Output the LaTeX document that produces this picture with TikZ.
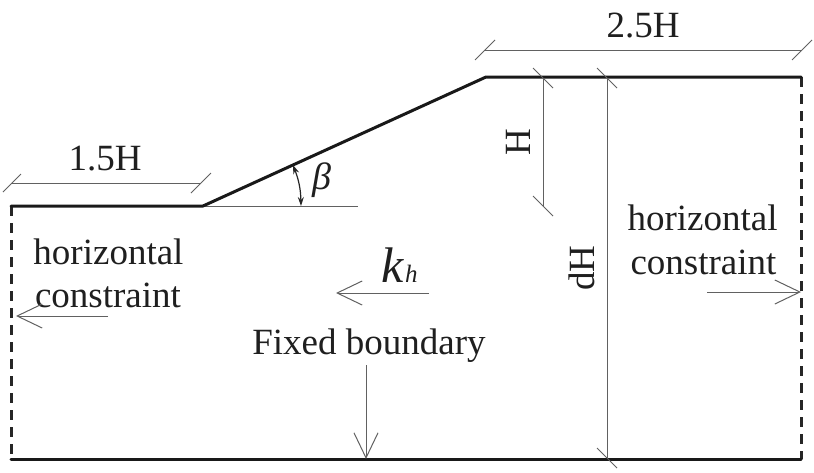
\documentclass[tikz,border=0pt]{standalone}
\usepackage{fontspec}
\setmainfont{Liberation Serif}
\usetikzlibrary{arrows.meta}
\tikzset{
  x=1pt,y=-1pt,
  ground/.style={line width=3pt,black!90,line cap=round,line join=round},
  free/.style={line width=3pt,black!85,dash pattern=on 10pt off 7pt},
  thin line/.style={line width=1pt,black!62},
  force/.style={thin line,-{Straight Barb[length=25pt,width=24pt,line width=1pt]}},
  angle mark/.style={line width=1.2pt,black!85,{Stealth[length=9pt,width=6pt]}-{Stealth[length=9pt,width=6pt]}},
  label/.style={inner sep=0pt,anchor=base,text=black!88,font=\fontsize{37}{37}\selectfont}
}
\newcommand{\ticks}[3]{\draw[thin line] ([shift={(#2,#3)}]#1) -- ([shift={(-#2,-#3)}]#1);}
\begin{document}
\begin{tikzpicture}
\useasboundingbox (0,0) rectangle (814,472);
\fill[white] (0,0) rectangle (814,472);
% profile
\coordinate (tl) at (11,206);
\coordinate (toe) at (203,206);
\coordinate (crest) at (486,77);
\coordinate (tr) at (801,77);
\coordinate (br) at (801,459);
\coordinate (bl) at (11,459);
\coordinate (hend) at (358,206);
\draw[free] (tl) -- (bl);
\draw[free] (tr) -- (br);
\draw[thin line] (toe) -- (hend);
\draw[ground] (tl) -- (toe) -- (crest) -- (tr);
\draw[ground] (bl) -- (br);
% dimensions
\coordinate (a1) at (12,183); \coordinate (a2) at (201,183);
\coordinate (b1) at (485,50); \coordinate (b2) at (802,50);
\coordinate (c1) at (543,78); \coordinate (c2) at (543,206);
\coordinate (d1) at (607,78); \coordinate (d2) at (607,458);
\draw[thin line] (a1) -- (a2);
\draw[thin line] (b1) -- (b2);
\draw[thin line] (c1) -- (c2);
\draw[thin line] (d1) -- (d2);
\ticks{a1}{9}{-9}\ticks{a2}{10}{-10}
\ticks{b1}{10}{-10}\ticks{b2}{10}{-10}
\ticks{c1}{10}{10}\ticks{c2}{10}{10}
\ticks{d1}{10}{10}\ticks{d2}{10}{10}
\node[label] (l15) at (105,170) {1.5H};
\node[label] (l25) at (643,37) {2.5H};
\node[label,rotate=90,anchor=center] (lH) at (518,142) {H};
\node[label,rotate=90,anchor=center] (ldH) at (582,268) {dH};
% angle
\coordinate (ang1) at (293,165);
\coordinate (ang2) at (301,206);
\draw[angle mark] (ang1) to[bend left=10] (ang2);
\node[label,font=\fontsize{38}{38}\selectfont\itshape] (beta) at (322,189) {β};
% texts
\node[label] (h1) at (108.5,264) {horizontal};
\node[label] (c1t) at (108,307) {constraint};
\node[label] (h2) at (702.5,230) {horizontal};
\node[label] (c2t) at (703.5,274) {constraint};
\node[label] (fb) at (369,354) {Fixed boundary};
\node[label,anchor=base west,font=\fontsize{50}{50}\selectfont\itshape] (k) at (381,282) {k};
\node[label,anchor=base west,font=\fontsize{25}{25}\selectfont\itshape] (hh) at (405,282) {h};
% arrows
\coordinate (f1a) at (108,316); \coordinate (f1b) at (16,316);
\coordinate (f2a) at (707,292); \coordinate (f2b) at (801,292);
\coordinate (f3a) at (429,293); \coordinate (f3b) at (336,293);
\coordinate (f4a) at (366,365); \coordinate (f4b) at (366,459);
\draw[force] (f1a) -- (f1b);
\draw[force] (f2a) -- (f2b);
\draw[force] (f3a) -- (f3b);
\draw[force] (f4a) -- (f4b);
\end{tikzpicture}
\end{document}
